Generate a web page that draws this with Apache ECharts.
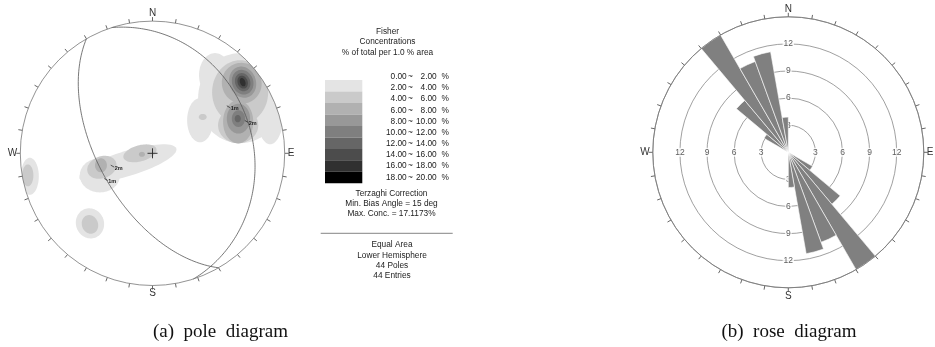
<!DOCTYPE html>
<html><head><meta charset="utf-8">
<script src="https://cdn.jsdelivr.net/npm/echarts@6/dist/echarts.min.js"></script>
<style>html,body{margin:0;padding:0;background:#fff}#c{width:935px;height:347px}</style>
</head><body><div id="c"></div>
<script>
// ================= DATA =================
// Compass labels at 0/90/180/270 degrees
const compassAngles = [0, 90, 180, 270];
const compassLabels = ['N', 'E', 'S', 'W'];

// Contour levels (Fisher concentration, % of total per 1% area)
const levelBounds = [0, 2, 4, 6, 8, 10, 12, 14, 16, 18, 20];
const levelColors = ['#ffffff', '#e4e4e4', '#cacaca', '#b1b1b1', '#989898', '#7f7f7f', '#666666', '#4c4c4c', '#303030', '#000000'];

// Concentration patches:
// [level, x, y, semiAxisX, semiAxisY, rotationDeg]  (stereonet units, radius = 100)
const contourLevel = [1, 1, 1, 1, 1, 1, 1, 1,   2, 2, 2, 2, 2, 2, 2, 2,   3, 3, 3, 3,   4, 4,   5, 5,   6, 6,   7,   8];
const contourX     = [66.3, 47.3, 36.0, 89.0, -18.6, -39.8, -92.8, -47.3,   66.3, 64.8, 38.0, -38.3, -9.5, -94.3, -47.3, 62.0,   67.5, 64.8, -39.0, -8.0,   68.2, 65.0,   68.2, 65.0,   68.2, 64.5,   68.2,   68.2];
const contourY     = [41.7, 59.1, 25.0, 32.6, -7.6, -16.7, -17.4, -53.0,   46.2, 21.2, 27.5, -10.6, 0.0, -16.7, -53.8, 34.0,   53.0, 23.8, -9.1, -0.8,   53.8, 26.2,   53.8, 26.2,   53.8, 26.2,   53.8,   53.8];
const contourRX    = [31.8, 12.1, 9.8, 10.6, 38.3, 15.2, 6.8, 10.6,   21.2, 15.2, 3.0, 11.4, 12.9, 4.2, 6.1, 8.0,   15.0, 11.4, 4.5, 2.3,   10.0, 8.8,   8.0, 5.0,   5.7, 2.3,   3.8,   2.0];
const contourRY    = [34.1, 16.7, 16.7, 25.8, 9.5, 12.9, 14.0, 11.5,   24.2, 13.6, 2.3, 8.3, 6.1, 8.3, 7.2, 10.0,   15.5, 16.3, 5.3, 1.9,   12.0, 11.3,   9.5, 6.3,   7.0, 2.8,   5.0,   3.3];
const contourRot   = [0, 0, 0, 0, 17, 0, 0, 20,   0, 0, 0, 20, 15, 0, 20, 0,   20, 0, 0, 0,   20, 0,   20, 0,   20, 0,   20,   20];

// Great circles (planes): dip direction / dip (deg)
const planeDipDir = [240, 72];
const planeDip    = [57, 25];

// Set labels on the pole plot: text, x, y (stereonet units)
const setLabelText = ['1m', '2m', '1m', '2m'];
const setLabelX    = [-34.6, -29.7, 58.1, 71.7];
const setLabelY    = [-20.2, -10.1, 34.8, 23.7];

// Rose diagram: 10-degree bins (azimuth start), bidirectional
const roseBins = ['0','10','20','30','40','50','60','70','80','90','100','110','120','130','140','150','160','170',
                  '180','190','200','210','220','230','240','250','260','270','280','290','300','310','320','330','340','350'];
const roseValues = [0, 0, 0, 0, 0, 0, 0, 0, 0, 0, 0, 0, 3.1, 7.5, 15.0, 10.6, 11.4, 3.9,
                    0, 0, 0, 0, 0, 0, 0, 0, 0, 0, 0, 0, 3.1, 7.5, 15.0, 10.7, 11.3, 3.9];
const roseRings = [3, 6, 9, 12];

// Legend texts
const legendTitle = ['Fisher', 'Concentrations', '% of total per 1.0 % area'];
const legendNotes = ['Terzaghi Correction', 'Min. Bias Angle = 15 deg', 'Max. Conc. = 17.1173%'];
const projectionNotes = ['Equal Area', 'Lower Hemisphere', '44 Poles', '44 Entries'];
const captions = ['(a)  pole  diagram', '(b)  rose  diagram'];

// ================= LAYOUT =================
const PC = [152.5, 153.3], PR = 132.2;   // pole diagram
const RC = [788.3, 152.3], RR = 135.5;   // rose diagram
const RMAX = 15;
const D = Math.PI / 180;
const SANS = '"Liberation Sans", Arial, sans-serif';
const SERIF = '"Liberation Serif", "Times New Roman", serif';

function eqArea(trend, plunge) {
  const r = 100 * Math.SQRT2 * Math.sin((90 - plunge) / 2 * D);
  return [r * Math.sin(trend * D), r * Math.cos(trend * D)];
}
const compassFmt = v => { const i = compassAngles.indexOf(v); return i >= 0 && v !== 360 ? compassLabels[i] : ''; };

const contourData = contourLevel.map((l, i) => [l, contourX[i], contourY[i], contourRX[i], contourRY[i], contourRot[i]])
  .sort((a, b) => a[0] - b[0]);
const planeData = planeDipDir.map((d, i) => [d, planeDip[i]]);
const setLabelData = setLabelText.map((t, i) => [setLabelX[i], setLabelY[i], t]);
const ringLabelData = [];
compassAngles.forEach(a => roseRings.forEach(r => ringLabelData.push([r, a])));

// legend graphics
const g = [];
const font = sz => sz + 'px ' + SANS;
const txt = (t, x, y, align) => ({type: 'text', x, y,
  style: {text: t, font: font(8.3), fill: '#222', align, verticalAlign: 'middle'}});
legendTitle.forEach((t, i) => g.push(txt(t, 387.5, 31.7 + i * 10.4, 'center')));
const rowY0 = 76.7, rowH = 11.18, swY0 = 80, swH = 11.48;
for (let i = 0; i < levelBounds.length - 1; i++) {
  const y = rowY0 + i * rowH;
  g.push(txt(levelBounds[i].toFixed(2), 406.7, y, 'right'));
  g.push(txt('~', 410.5, y, 'center'));
  g.push(txt(levelBounds[i + 1].toFixed(2), 436.7, y, 'right'));
  g.push(txt('%', 449, y, 'right'));
  if (i > 0) g.push({type: 'rect', shape: {x: 325, y: swY0 + (i - 1) * swH, width: 37.3, height: swH}, style: {fill: levelColors[i]}});
}
legendNotes.forEach((t, i) => g.push(txt(t, 391.5, 193.3 + i * 10, 'center')));
g.push({type: 'line', shape: {x1: 320.7, y1: 233.3, x2: 452.7, y2: 233.3}, style: {stroke: '#666', lineWidth: 0.8}});
projectionNotes.forEach((t, i) => g.push(txt(t, 392, 245 + i * 10.4, 'center')));
g.push({type: 'text', x: 220.5, y: 332, style: {text: captions[0], font: '19px ' + SERIF, fill: '#111', align: 'center', verticalAlign: 'middle'}});
g.push({type: 'text', x: 789, y: 332, style: {text: captions[1], font: '19px ' + SERIF, fill: '#111', align: 'center', verticalAlign: 'middle'}});

const angleFrame = (idx) => ({
  polarIndex: idx, type: 'value', min: 0, max: 360, interval: 10, startAngle: 90, clockwise: true,
  axisLine: {show: true, lineStyle: {color: '#777', width: 0.8}},
  axisTick: {show: true, length: 4, lineStyle: {color: '#555', width: 0.9}},
  axisLabel: {show: true, margin: 3, formatter: compassFmt, fontSize: 10, color: '#333', fontFamily: SANS},
  splitLine: {show: false}, splitArea: {show: false}, z: 5
});

const option = {
  backgroundColor: '#fff',
  animation: false,
  grid: {left: PC[0] - PR, top: PC[1] - PR, width: 2 * PR, height: 2 * PR},
  xAxis: {type: 'value', min: -100, max: 100, show: false},
  yAxis: {type: 'value', min: -100, max: 100, show: false},
  polar: [
    {center: PC, radius: PR},
    {center: RC, radius: RR},
    {center: RC, radius: RR}
  ],
  angleAxis: [
    angleFrame(0),
    {polarIndex: 1, type: 'category', data: roseBins, startAngle: 90, clockwise: true, boundaryGap: true,
     axisLine: {show: false}, axisTick: {show: false}, axisLabel: {show: false}, splitLine: {show: false}},
    angleFrame(2)
  ],
  radiusAxis: [
    {polarIndex: 0, type: 'value', min: 0, max: 100, show: false},
    {polarIndex: 1, type: 'value', min: 0, max: RMAX, show: false},
    {polarIndex: 2, type: 'value', min: 0, max: RMAX, interval: 3,
     axisLine: {show: false}, axisTick: {show: false}, axisLabel: {show: false},
     splitLine: {show: true, lineStyle: {color: '#777', width: 0.7}}}
  ],
  graphic: g,
  series: [
    {
      type: 'custom', coordinateSystem: 'cartesian2d', silent: true, z: 1,
      data: contourData,
      encode: {x: 1, y: 2},
      renderItem(params, api) {
        const lv = api.value(0), cx = api.value(1), cy = api.value(2);
        const rx = api.value(3), ry = api.value(4), rot = api.value(5) * D;
        const pts = [];
        for (let i = 0; i < 72; i++) {
          const t = i / 72 * 2 * Math.PI;
          const x = rx * Math.cos(t), y = ry * Math.sin(t);
          let X = cx + x * Math.cos(rot) - y * Math.sin(rot);
          let Y = cy + x * Math.sin(rot) + y * Math.cos(rot);
          const d = Math.hypot(X, Y);
          if (d > 100) { X *= 100 / d; Y *= 100 / d; }
          pts.push(api.coord([X, Y]));
        }
        return {type: 'polygon', shape: {points: pts}, style: {fill: levelColors[lv], stroke: null}};
      }
    },
    {
      type: 'custom', coordinateSystem: 'cartesian2d', silent: true, z: 2,
      data: planeData,
      renderItem(params, api) {
        const dd = api.value(0), dip = api.value(1);
        const pts = [];
        for (let a = -90; a <= 90; a += 1) {
          const p = Math.atan(Math.tan(dip * D) * Math.cos(a * D)) / D;
          pts.push(api.coord(eqArea(dd + a, p)));
        }
        return {type: 'polyline', shape: {points: pts}, style: {stroke: '#555', lineWidth: 0.8, fill: null}};
      }
    },
    {
      type: 'custom', coordinateSystem: 'cartesian2d', silent: true, z: 3,
      data: setLabelData,
      renderItem(params, api) {
        const p = api.coord([api.value(0), api.value(1)]);
        return {type: 'group', children: [
          {type: 'line', shape: {x1: p[0] - 2.5, y1: p[1] - 1.5, x2: p[0] + 1, y2: p[1] + 0.5}, style: {stroke: '#222', lineWidth: 0.7}},
          {type: 'text', x: p[0] + 1.5, y: p[1] + 1.5, style: {text: setLabelText[params.dataIndex], font: 'bold 5.5px ' + SANS, fill: '#222', align: 'left', verticalAlign: 'middle'}}
        ]};
      }
    },
    {
      type: 'custom', coordinateSystem: 'cartesian2d', silent: true, z: 3,
      data: [[0, 0]],
      renderItem(params, api) {
        const p = api.coord([api.value(0), api.value(1)]);
        return {type: 'group', children: [
          {type: 'line', shape: {x1: p[0] - 5, y1: p[1], x2: p[0] + 5, y2: p[1]}, style: {stroke: '#222', lineWidth: 0.9}},
          {type: 'line', shape: {x1: p[0], y1: p[1] - 5, x2: p[0], y2: p[1] + 5}, style: {stroke: '#222', lineWidth: 0.9}}
        ]};
      }
    },
    {
      type: 'scatter', coordinateSystem: 'polar', polarIndex: 2, silent: true, z: 2,
      symbol: 'circle', symbolSize: 1, itemStyle: {color: 'rgba(0,0,0,0)'},
      data: ringLabelData,
      label: {show: true, position: 'inside', formatter: p => String(p.value[0]), color: '#333', fontSize: 8.5,
              fontFamily: SANS, backgroundColor: '#fff', padding: [0, 1]}
    },
    {
      type: 'bar', coordinateSystem: 'polar', polarIndex: 1, silent: true, z: 3,
      data: roseValues, barCategoryGap: '0%',
      itemStyle: {color: '#808080', borderColor: '#ffffff', borderWidth: 0.6}
    }
  ]
};
const chart = echarts.init(document.getElementById('c'));
chart.setOption(option);
</script>
</body></html>
